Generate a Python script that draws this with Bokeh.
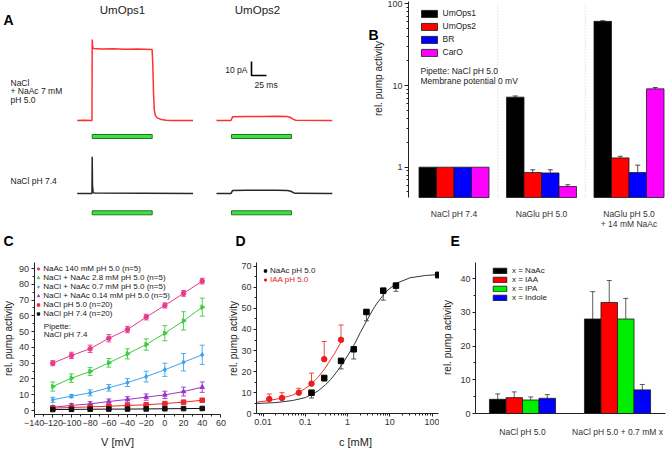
import math
from bokeh.plotting import figure
from bokeh.layouts import column, row
from bokeh.models import (Range1d, Label, Legend, LegendItem, Whisker, TeeHead,
                          ColumnDataSource, FixedTicker, CustomJSTickFormatter)
from bokeh.embed import file_html
from bokeh.resources import INLINE

FONT = "Liberation Sans"
TXT = "#222222"

# ---------------- Panel A data (time in ms from trace start, current in pA above baseline)
light_on_ms, light_off_ms = 25, 125
scale_pA, scale_ms = 10, 25
a_titles = ["UmOps1", "UmOps2"]
a_row1_label = ["NaCl", "+ NaAc 7 mM", "pH 5.0"]
a_row2_label = "NaCl pH 7.4"
u1_red_t = [0, 12, 24.6, 25.0, 25.8, 27, 40, 60, 80, 100, 124.8, 126.0, 127.2, 128.4, 130, 132, 135, 140, 148, 160, 193]
u1_red_i = [0, 0.2, 0, 57.9, 52.5, 51.5, 51.0, 51.3, 50.9, 51.1, 50.7, 40, 20, 8, 4.0, 2.5, 1.5, 0.7, 0.2, 0, 0]
u1_blk_t = [0, 24.6, 25.0, 25.5, 26.5, 28, 193]
u1_blk_i = [0, 0, 26.2, 6, 1.0, 0.3, 0]
u2_red_t = [0, 24, 27, 50, 75, 100, 118, 124, 128, 132, 193]
u2_red_i = [0, 0, 2.6, 2.8, 2.9, 3.0, 2.8, 2.0, 0.8, 0.2, 0]
u2_blk_t = [0, 24, 27, 50, 75, 100, 118, 124, 128, 132, 193]
u2_blk_i = [0, 0, 2.2, 2.4, 2.3, 2.4, 2.2, 1.6, 0.6, 0.1, 0]

# ---------------- Panel B data
b_groups = ["NaCl pH 7.4", "NaGlu pH 5.0", "NaGlu pH 5.0\n+ 14 mM NaAc"]
b_names = ["UmOps1", "UmOps2", "BR", "CarO"]
b_umops1 = [1.0, 7.2, 61.0]
b_umops1_err = [0.0, 0.25, 1.0]
b_umops2 = [1.0, 0.86, 1.30]
b_umops2_err = [0.0, 0.07, 0.06]
b_br = [1.0, 0.85, 0.86]
b_br_err = [0.0, 0.08, 0.20]
b_caro = [1.0, 0.58, 9.1]
b_caro_err = [0.0, 0.03, 0.35]
b_yticks = [1, 10, 100]
b_yminor = [0.5, 0.6, 0.7, 0.8, 0.9, 2, 3, 4, 5, 6, 7, 8, 9, 20, 30, 40, 50, 60, 70, 80, 90]

# ---------------- Panel C data
c_V = [-120, -100, -80, -60, -40, -20, 0, 20, 40]
c_names = ["NaAc 140 mM pH 5.0 (n=5)", "NaCl + NaAc 2.8 mM pH 5.0 (n=5)",
           "NaCl + NaAc 0.7 mM pH 5.0 (n=5)", "NaCl + NaAc 0.14 mM pH 5.0 (n=5)",
           "NaCl pH 5.0 (n=20)", "NaCl pH 7.4 (n=20)"]
c_naac140 = [30.0, 34.9, 39.1, 45.8, 51.3, 59.2, 66.6, 74.2, 82.0]
c_naac140_err = [1.6, 2.0, 2.3, 2.3, 2.0, 1.8, 1.6, 1.8, 1.8]
c_naac28 = [15.2, 20.5, 24.7, 30.2, 35.9, 41.8, 49.0, 56.8, 65.5]
c_naac28_err = [2.9, 2.7, 2.5, 2.7, 3.2, 3.6, 4.8, 5.8, 5.7]
c_naac07 = [6.8, 9.1, 11.2, 14.4, 17.7, 21.5, 25.8, 30.6, 35.3]
c_naac07_err = [1.6, 1.0, 1.9, 2.1, 2.5, 3.4, 4.2, 5.5, 6.1]
c_naac014 = [2.1, 3.2, 4.2, 5.7, 7.0, 8.5, 9.9, 12.0, 14.8]
c_naac014_err = [1.0, 1.2, 1.4, 1.6, 1.8, 2.0, 2.3, 2.8, 3.3]
c_ph50 = [1.5, 1.9, 2.3, 2.7, 3.2, 3.6, 4.4, 5.3, 6.5]
c_ph50_err = [0.5, 0.5, 0.5, 0.5, 0.6, 0.6, 0.7, 0.8, 1.0]
c_ph74 = [0.6, 0.7, 0.8, 0.9, 0.9, 1.0, 1.1, 1.2, 1.3]
c_ph74_err = [0.2, 0.2, 0.2, 0.2, 0.2, 0.2, 0.2, 0.2, 0.2]
c_xticks = [-140, -120, -100, -80, -60, -40, -20, 0, 20, 40, 60]
c_xminor = [-130, -110, -90, -70, -50, -30, -10, 10, 30, 50]
c_yticks = [0, 10, 20, 30, 40, 50, 60, 70, 80, 90]
c_yminor = [5, 15, 25, 35, 45, 55, 65, 75, 85]

# ---------------- Panel D data
d_naac_c = [0.14, 0.28, 0.7, 1.4, 2.8, 7, 14, 140]
d_naac_y = [10.0, 17.0, 25.1, 30.6, 48.3, 58.4, 60.8, 65.9]
d_naac_err = [2.5, 1.5, 3.8, 4.6, 4.2, 4.5, 2.7, 1.5]
d_iaa_c = [0.014, 0.028, 0.07, 0.14, 0.28, 0.7]
d_iaa_y = [7.0, 7.5, 10.0, 14.3, 25.9, 35.1]
d_iaa_err = [2.4, 2.5, 2.1, 5.0, 8.4, 7.0]
d_naac_fit_c = [0.007, 0.02, 0.05, 0.1, 0.2, 0.3, 0.4, 0.55, 0.7, 1.0, 1.5, 2, 3, 4, 5, 8, 14, 30, 70, 140]
d_naac_fit_y = [4.9, 5.3, 6.3, 7.7, 10.8, 13.8, 16.3, 19.8, 22.7, 27.5, 33.5, 38.5, 45.0, 49.5, 52.5, 57.8, 61.8, 64.5, 65.6, 66.0]
d_iaa_fit_c = [0.007, 0.014, 0.03, 0.05, 0.07, 0.1, 0.14, 0.2, 0.28, 0.4, 0.5, 0.7]
d_iaa_fit_y = [5.5, 6.3, 7.6, 8.9, 10.2, 12.0, 14.2, 17.3, 21.0, 25.8, 28.8, 34.0]
d_names = ["NaAc pH 5.0", "IAA pH 5.0"]
d_xticks = [0.01, 0.1, 1, 10, 100]
d_xminor = [0.008, 0.009, 0.02, 0.03, 0.04, 0.05, 0.06, 0.07, 0.08, 0.09,
            0.2, 0.3, 0.4, 0.5, 0.6, 0.7, 0.8, 0.9, 2, 3, 4, 5, 6, 7, 8, 9,
            20, 30, 40, 50, 60, 70, 80, 90]
d_yticks = [0, 10, 20, 30, 40, 50, 60, 70]
d_yminor = [5, 15, 25, 35, 45, 55, 65]

# ---------------- Panel E data
e_groups = ["NaCl pH 5.0", "NaCl pH 5.0 + 0.7 mM x"]
e_names = ["x = NaAc", "x = IAA", "x = IPA", "x = Indole"]
e_naac = [4.2, 28.0]
e_naac_err = [1.6, 8.1]
e_iaa = [4.7, 32.9]
e_iaa_err = [1.7, 6.5]
e_ipa = [4.0, 28.0]
e_ipa_err = [0.9, 6.1]
e_indole = [4.5, 7.0]
e_indole_err = [1.1, 1.6]
e_yticks = [0, 10, 20, 30, 40]
e_yminor = [5, 15, 25, 35]

YLABEL = "rel. pump activity"

# ---------------- layout (page pixels)
A_L, A_W = 0, 336
B_L, B_W = 336, 330
R1_T, R1_H = 0, 230
C_L, C_W = 0, 226
D_L, D_W = 226, 213
E_L, E_W = 439, 227
R2_T, R2_H = 230, 219


class LinMap:
    """maps data <-> page pixel positions along one direction"""
    def __init__(self, d0, p0, d1, p1, log=False):
        self.log = log
        f = math.log10 if log else (lambda v: v)
        self.a0, self.p0 = f(d0), p0
        self.s = (f(d1) - f(d0)) / (p1 - p0)

    def data(self, page):
        v = self.a0 + (page - self.p0) * self.s
        return 10 ** v if self.log else v


def fig(w, h, xm, ym, left, top, **kw):
    p = figure(width=w, height=h, output_backend="svg", toolbar_location=None,
               x_range=Range1d(xm.data(left), xm.data(left + w)),
               y_range=Range1d(ym.data(top + h), ym.data(top)),
               min_border=0, min_border_left=0, min_border_right=0,
               min_border_top=0, min_border_bottom=0, **kw)
    p.grid.visible = False
    p.outline_line_color = None
    p._left, p._bottom = left, top + h
    return p


def style_axes(p):
    for ax in p.axis:
        ax.axis_line_color = "#222222"
        ax.major_tick_line_color = "#222222"
        ax.minor_tick_line_color = "#222222"
        ax.major_tick_in = 0
        ax.major_tick_out = 3
        ax.minor_tick_in = 0
        ax.minor_tick_out = 2
        ax.major_label_text_font = FONT
        ax.major_label_text_font_size = "9px"
        ax.major_label_text_color = "#333333"
        ax.major_label_standoff = 2


def put(p, page_x, page_y, text, size="8.5px", color=TXT, align="left", bold=False, angle=0.0):
    p.add_layout(Label(x=page_x - p._left, y=p._bottom - page_y, x_units="screen", y_units="screen",
                       text=text, text_font=FONT, text_font_size=size, text_color=color,
                       text_align=align, text_baseline="middle", angle=angle,
                       text_font_style="bold" if bold else "normal"))


def letter(p, page_x, page_y, t):
    put(p, page_x, page_y, t, size="14px", color="#000000", bold=True)


def ylabel(p, page_x, page_y, size="10px"):
    put(p, page_x, page_y, YLABEL, size=size, align="center", angle=math.pi / 2)


def legend(p, items, page_x, page_bottom, **kw):
    opts = dict(spacing=0, padding=0, margin=0, border_line_color=None, background_fill_alpha=0,
                label_text_font=FONT, label_text_color=TXT)
    opts.update(kw)
    p.add_layout(Legend(items=items, location=(page_x - p._left, p._bottom - page_bottom), **opts))


num_fmt = CustomJSTickFormatter(code="return String(tick)")

# ================= Panel A
xmA = LinMap(0, 0, scale_ms, 15)
ymA = LinMap(0, 226, scale_pA, 212)
pA = fig(A_W, R1_H, xmA, ymA, A_L, R1_T, x_axis_location=None, y_axis_location=None)
col_t0 = [xmA.data(76.7), xmA.data(216)]
row_base = [ymA.data(120), ymA.data(193)]
bar_mid = [ymA.data(136), ymA.data(212.3)]
bar_half = ymA.data(224) - ymA.data(226)
traces = [(u1_red_t, u1_red_i, 0, 0, "#ff1a1a"), (u2_red_t, u2_red_i, 1, 0, "#ff1a1a"),
          (u1_blk_t, u1_blk_i, 0, 1, "#111111"), (u2_blk_t, u2_blk_i, 1, 1, "#111111")]
for t, i, c, r, colr in traces:
    pA.line([v + col_t0[c] for v in t], [v + row_base[r] for v in i], line_color=colr,
            line_width=1.5, line_alpha=0.9)
for c in range(2):
    for r in range(2):
        pA.quad(left=[col_t0[c] + light_on_ms], right=[col_t0[c] + light_off_ms],
                bottom=[bar_mid[r] - bar_half], top=[bar_mid[r] + bar_half],
                fill_color="#3fe03f", line_color="#1f7a1f", line_width=1)
sx0, sy0 = xmA.data(251), ymA.data(75)
pA.line([sx0, sx0, sx0 + scale_ms], [sy0 + scale_pA, sy0, sy0], line_color="#000000", line_width=1.6)
put(pA, 247, 69, f"{scale_pA} pA", align="right")
put(pA, 254, 84, f"{scale_ms} ms")
put(pA, 122, 9, a_titles[0], size="11.5px", align="center")
put(pA, 257, 9, a_titles[1], size="11.5px", align="center")
for k, line in enumerate(a_row1_label):
    put(pA, 10, 82 + 8.5 * k, line)
put(pA, 10, 180, a_row2_label)
letter(pA, 3, 19, "A")

# ================= Panel B
xmB = LinMap(0, 453.5, 2, 628.5)
ymB = LinMap(1, 166.7, 10, 85, log=True)
pB = fig(B_W, R1_H, xmB, ymB, B_L, R1_T, y_axis_type="log")
style_axes(pB)
b_base = ymB.data(197)
b_series = [(b_umops1, b_umops1_err, "#000000"), (b_umops2, b_umops2_err, "#ff0000"),
            (b_br, b_br_err, "#0000ff"), (b_caro, b_caro_err, "#ff00ff")]
b_offsets = [-0.3, -0.1, 0.1, 0.3]
b_items = []
for k, (vals, errs, colr) in enumerate(b_series):
    xs = [g + b_offsets[k] for g in range(len(b_groups))]
    src = ColumnDataSource(dict(x=xs, top=vals))
    r = pB.vbar(x="x", top="top", bottom=b_base, width=0.2, source=src,
                fill_color=colr, line_color="#1a1a1a", line_width=0.8)
    b_items.append(LegendItem(label=b_names[k], renderers=[r]))
    ex = [x for x, e in zip(xs, errs) if e > 0]
    lo = [v - e for v, e in zip(vals, errs) if e > 0]
    hi = [v + e for v, e in zip(vals, errs) if e > 0]
    wsrc = ColumnDataSource(dict(x=ex, lo=lo, hi=hi))
    pB.add_layout(Whisker(base="x", lower="lo", upper="hi", source=wsrc, line_color="#222222",
                          line_width=0.8,
                          upper_head=TeeHead(size=5, line_color="#222222", line_width=0.8),
                          lower_head=TeeHead(size=5, line_color="#222222", line_width=0.8)))
pB.segment(x0=[0.5, 1.5], x1=[0.5, 1.5], y0=[b_base, b_base], y1=[ymB.data(2), ymB.data(2)],
           line_color="#cfcfcf", line_dash="1 2", line_width=1)
pB.yaxis.fixed_location = xmB.data(408)
pB.yaxis.bounds = (b_base, ymB.data(1))
pB.yaxis.ticker = FixedTicker(ticks=b_yticks, minor_ticks=b_yminor)
pB.yaxis.formatter = num_fmt
pB.yaxis.major_tick_out = 4
pB.xaxis.fixed_location = b_base
pB.xaxis.ticker = FixedTicker(ticks=[0, 1, 2])
pB.xaxis.major_label_overrides = {i: g for i, g in enumerate(b_groups)}
pB.xaxis.axis_line_color = None
pB.xaxis.major_tick_line_color = None
pB.xaxis.minor_tick_line_color = None
pB.xaxis.major_tick_out = 0
pB.xaxis.major_label_standoff = 11
pB.xaxis.major_label_text_line_height = 1.0
pB.xaxis.major_label_text_font_size = "8.5px"
legend(pB, b_items, 418.5, 57, glyph_width=20, glyph_height=9, label_height=9, spacing=3,
       label_text_font_size="8.5px", label_standoff=4)
put(pB, 420, 70, "Pipette: NaCl pH 5.0")
put(pB, 420, 80, "Membrane potential 0 mV")
letter(pB, 368, 34, "B")
ylabel(pB, 378, 78)

# ================= Panel C
xmC = LinMap(-140, 33.6, 60, 220.4)
ymC = LinMap(0, 410, 90, 268)
pC = fig(C_W, R2_H, xmC, ymC, C_L, R2_T)
style_axes(pC)
c_series = [(c_naac140, c_naac140_err, "#e8398c", "circle", 0),
            (c_naac28, c_naac28_err, "#3dcc3d", "triangle", -math.pi / 2),
            (c_naac07, c_naac07_err, "#3ba3ee", "diamond", 0),
            (c_naac014, c_naac014_err, "#9b35c9", "triangle", 0),
            (c_ph50, c_ph50_err, "#ee2828", "square", 0),
            (c_ph74, c_ph74_err, "#111111", "square", 0)]
c_items = []
for k, (vals, errs, colr, mk, ang) in enumerate(c_series):
    src = ColumnDataSource(dict(x=c_V, y=vals, lo=[v - e for v, e in zip(vals, errs)],
                                hi=[v + e for v, e in zip(vals, errs)]))
    pC.line("x", "y", source=src, line_color=colr, line_width=1)
    pC.add_layout(Whisker(base="x", lower="lo", upper="hi", source=src, line_color=colr,
                          line_width=0.9,
                          upper_head=TeeHead(size=5, line_color=colr, line_width=0.9),
                          lower_head=TeeHead(size=5, line_color=colr, line_width=0.9)))
    r = pC.scatter("x", "y", source=src, marker=mk, angle=ang, size=4.5,
                   fill_color=colr, line_color=colr)
    c_items.append(LegendItem(label=c_names[k], renderers=[r]))
c_ybase = ymC.data(414)
pC.xaxis.fixed_location = c_ybase
pC.xaxis.bounds = (c_xticks[0], c_xticks[-1])
pC.xaxis.ticker = FixedTicker(ticks=c_xticks, minor_ticks=c_xminor)
pC.yaxis.fixed_location = c_xticks[0]
pC.yaxis.bounds = (c_ybase, ymC.data(262))
pC.yaxis.ticker = FixedTicker(ticks=c_yticks, minor_ticks=c_yminor)
legend(pC, c_items, 35.3, 318.3, glyph_width=6, glyph_height=9, label_height=9,
       label_text_font_size="8px", label_standoff=2)
put(pC, 43.3, 325.7, "Pipette:", size="8px")
put(pC, 43.3, 334.2, "NaCl pH 7.4", size="8px")
letter(pC, 3, 240, "C")
ylabel(pC, 7.5, 338)
put(pC, 117, 441, "V [mV]", size="11px", align="center")

# ================= Panel D
xmD = LinMap(0.14, 311, 140, 437.7, log=True)
ymD = LinMap(0, 413.3, 70, 265.7)
pD = fig(D_W, R2_H, xmD, ymD, D_L, R2_T, x_axis_type="log")
style_axes(pD)
pD.line(d_naac_fit_c, d_naac_fit_y, line_color="#333333", line_width=1)
pD.line(d_iaa_fit_c, d_iaa_fit_y, line_color="#ee3333", line_width=1)
srcDb = ColumnDataSource(dict(x=d_naac_c, y=d_naac_y, lo=[v - e for v, e in zip(d_naac_y, d_naac_err)]))
srcDr = ColumnDataSource(dict(x=d_iaa_c, y=d_iaa_y, hi=[v + e for v, e in zip(d_iaa_y, d_iaa_err)]))
pD.add_layout(Whisker(base="x", lower="lo", upper="y", source=srcDb, line_color="#444444", line_width=0.9,
                      lower_head=TeeHead(size=5, line_color="#444444", line_width=0.9), upper_head=None))
pD.add_layout(Whisker(base="x", lower="y", upper="hi", source=srcDr, line_color="#ee3333", line_width=0.9,
                      upper_head=TeeHead(size=5, line_color="#ee3333", line_width=0.9), lower_head=None))
rDb = pD.scatter("x", "y", source=srcDb, marker="square", size=5.5, fill_color="#000000", line_color="#000000")
rDr = pD.scatter("x", "y", source=srcDr, marker="circle", size=5.5, fill_color="#ee1c1c", line_color="#ee1c1c")
pD.xaxis.fixed_location = 0
pD.xaxis.bounds = (xmD.data(256), xmD.data(438))
pD.xaxis.ticker = FixedTicker(ticks=d_xticks, minor_ticks=d_xminor)
pD.xaxis.formatter = num_fmt
pD.yaxis.fixed_location = xmD.data(256)
pD.yaxis.bounds = (0, ymD.data(262))
pD.yaxis.ticker = FixedTicker(ticks=d_yticks, minor_ticks=d_yminor)
for k, (rr, colr, bottom) in enumerate([(rDb, TXT, 274.6), (rDr, "#e01e1e", 283.6)]):
    legend(pD, [LegendItem(label=d_names[k], renderers=[rr])], 262, bottom,
           glyph_width=6, glyph_height=9, label_height=9, label_text_font_size="8px",
           label_text_color=colr, label_standoff=2)
letter(pD, 235, 240, "D")
ylabel(pD, 232.5, 338)
put(pD, 355, 441, "c [mM]", size="11px", align="center")

# ================= Panel E
xmE = LinMap(0, 522, 1, 617)
ymE = LinMap(0, 413, 40, 278)
pE = fig(E_W, R2_H, xmE, ymE, E_L, R2_T)
style_axes(pE)
e_series = [(e_naac, e_naac_err, "#000000"), (e_iaa, e_iaa_err, "#ff0000"),
            (e_ipa, e_ipa_err, "#00ee00"), (e_indole, e_indole_err, "#0000ff")]
e_offsets = [-0.261, -0.087, 0.087, 0.261]
e_items = []
for k, (vals, errs, colr) in enumerate(e_series):
    xs = [g + e_offsets[k] for g in range(len(e_groups))]
    src = ColumnDataSource(dict(x=xs, top=vals, lo=[v - e for v, e in zip(vals, errs)],
                                hi=[v + e for v, e in zip(vals, errs)]))
    r = pE.vbar(x="x", top="top", bottom=0, width=0.174, source=src,
                fill_color=colr, line_color="#1a1a1a", line_width=0.8)
    e_items.append(LegendItem(label=e_names[k], renderers=[r]))
    pE.add_layout(Whisker(base="x", lower="lo", upper="hi", source=src, line_color="#333333",
                          line_width=0.8,
                          upper_head=TeeHead(size=5, line_color="#333333", line_width=0.8),
                          lower_head=TeeHead(size=5, line_color="#333333", line_width=0.8)))
pE.yaxis.fixed_location = xmE.data(475)
pE.yaxis.bounds = (0, ymE.data(262))
pE.yaxis.ticker = FixedTicker(ticks=e_yticks, minor_ticks=e_yminor)
pE.xaxis.fixed_location = 0
pE.xaxis.bounds = (xmE.data(475), xmE.data(665))
pE.xaxis.ticker = FixedTicker(ticks=[0, 1])
pE.xaxis.major_label_overrides = {i: g for i, g in enumerate(e_groups)}
pE.xaxis.major_tick_line_color = None
pE.xaxis.minor_tick_line_color = None
pE.xaxis.major_tick_out = 0
pE.xaxis.major_label_standoff = 13
pE.xaxis.major_label_text_font_size = "8.5px"
legend(pE, e_items, 491, 302.2, glyph_width=17, glyph_height=7, label_height=7,
       label_text_font_size="8px", label_standoff=4)
letter(pE, 450, 240, "E")
ylabel(pE, 446.5, 337)

layout = column(row(pA, pB), row(pC, pD, pE))
open("out.html", "w").write(file_html(layout, INLINE))
